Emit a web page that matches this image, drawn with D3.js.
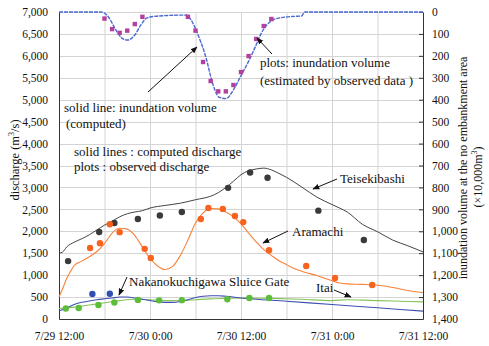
<!DOCTYPE html>
<html>
<head>
<meta charset="utf-8">
<script src="https://cdn.jsdelivr.net/npm/d3@7"></script>
<style>
  body { margin: 0; background: #fff; }
  text { font-family: "Liberation Serif", "Times New Roman", serif; fill: #111; }
</style>
</head>
<body>
<div id="chart"></div>
<script>
// hours from 7/29 12:00
var xTickHours = [0, 12, 24, 36, 48];
var xTickLabels = ["7/29 12:00", "7/30 0:00", "7/30 12:00", "7/31 0:00", "7/31 12:00"];
var leftTicks = d3.range(0, 7001, 500);
var rightTicks = d3.range(0, 1401, 100);

// computed discharge (m3/s)
var teisekibashi = [[0,1500],[0.5,1530],[1,1640],[2,1750],[3,1830],[4,1920],[5,2030],[6,2140],[7,2230],[8,2330],[9,2400],[10,2440],[11,2470],[12,2530],[14,2590],[16,2640],[18,2720],[20,2800],[21,2880],[22,3000],[23,3140],[24,3290],[25,3380],[26,3420],[27,3440],[28,3400],[29,3320],[30,3230],[32,3010],[34,2780],[36,2610],[37,2530],[38,2440],[40,2160],[42,1990],[44,1800],[46,1670],[48,1530]];
var aramachi = [[0,500],[0.5,700],[1,920],[1.5,1080],[2,1220],[3,1320],[4,1420],[5,1540],[6,1720],[7,1960],[8,2070],[9,2050],[10,1900],[11,1640],[12,1380],[13,1210],[14,1130],[15,1200],[16,1450],[17,1800],[18,2190],[19,2420],[20,2520],[21,2510],[22,2440],[23,2330],[24,2170],[25,1960],[26,1760],[27,1580],[28,1450],[29,1330],[30,1240],[31,1150],[32,1090],[33,1040],[34,990],[35,930],[36,870],[37,820],[38,800],[40,790],[42,770],[44,720],[46,650],[48,600]];
var nakanokuchigawa = [[0,180],[1,250],[2,330],[3,380],[4,410],[5,440],[6,460],[7,480],[8,500],[9,500],[10,480],[11,450],[12,420],[13,390],[14,380],[15,380],[16,400],[17,440],[18,490],[19,520],[20,530],[21,530],[22,520],[24,480],[30,405],[36,330],[42,255],[48,180]];
var itai = [[0,240],[2,270],[4,320],[6,370],[8,420],[10,450],[12,440],[14,420],[16,420],[18,440],[20,460],[22,470],[24,480],[28,470],[32,450],[36,420],[38,440],[40,430],[44,410],[48,390]];

// observed discharge
var teisekibashiObs = [[1.2,1320],[5.3,1984],[7.3,2190],[10.4,2280],[13.3,2360],[16.2,2440],[22.3,2990],[25.2,3340],[27.5,3220],[34.2,2470],[40.2,1800]];
var aramachiObs = [[4.1,1620],[5.4,1730],[6.7,2160],[8.0,1980],[11.3,1600],[12.1,1390],[18.7,2280],[19.7,2530],[21.6,2510],[23.2,2350],[24.3,2210],[27.7,1570],[32.6,1210],[36.4,935],[41.3,775]];
var nakanokuchigawaObs = [[4.4,570],[6.7,575]];
var itaiObs = [[0.9,240],[2.6,250],[5.2,320],[7.3,375],[10.4,435],[13.2,425],[16.2,430],[22.2,450],[25.1,480],[27.7,480]];

// inundation volume (x10,000 m3), right axis
var inundation = [[0,0],[5.5,0],[6,5],[6.6,27],[7.5,82],[8.3,119],[9,128],[10,105],[10.8,59],[11.6,27],[13.2,18],[16.8,14],[17.4,36],[18.5,119],[19.4,210],[20.2,319],[21.1,388],[22,395],[23,355],[24,290],[25,225],[26,150],[26.7,95],[27.4,59],[28.3,35],[29.1,27],[31,20],[32,18],[32.4,0],[48,0]];
var inundationObs = [[6,30],[7,78],[8,95],[9,85],[10,55],[11,22],[17,22],[18,85],[19,228],[20,315],[21,362],[22,362],[23,333],[24,274],[25,201],[26,123],[27,64],[28,32]];

var W = 489, H = 346;
var plot = {left: 59, right: 423, top: 12, bottom: 319};

var svg = d3.select("#chart").append("svg")
  .attr("width", W).attr("height", H);

var defs = svg.append("defs");
defs.append("marker")
  .attr("id", "arrow")
  .attr("viewBox", "0 0 10 10")
  .attr("refX", 9).attr("refY", 5)
  .attr("markerWidth", 7).attr("markerHeight", 7)
  .attr("orient", "auto")
  .append("path").attr("d", "M0,1 L10,5 L0,9 z").attr("fill", "#111");

var x = d3.scaleLinear().domain([0, 48]).range([plot.left, plot.right]);
var yL = d3.scaleLinear().domain([0, 7000]).range([plot.bottom, plot.top]);
var yR = d3.scaleLinear().domain([0, 1400]).range([plot.top, plot.bottom]);

// grid
var grid = svg.append("g").attr("stroke", "#d4d4d4").attr("stroke-width", 1);
grid.selectAll(".gx").data(d3.range(6, 48, 6)).enter().append("line")
  .attr("x1", d => x(d) + 0.5).attr("x2", d => x(d) + 0.5)
  .attr("y1", plot.top).attr("y2", plot.bottom);
grid.selectAll(".gy").data(leftTicks.slice(1)).enter().append("line")
  .attr("x1", plot.left).attr("x2", plot.right)
  .attr("y1", d => Math.round(yL(d)) + 0.5).attr("y2", d => Math.round(yL(d)) + 0.5);

// axes
var axisL = svg.append("g")
  .attr("transform", "translate(" + plot.left + ",0)")
  .call(d3.axisLeft(yL).tickValues(leftTicks).tickFormat(d3.format(",")).tickSize(0).tickPadding(11));
var axisR = svg.append("g")
  .attr("transform", "translate(" + plot.right + ",0)")
  .call(d3.axisRight(yR).tickValues(rightTicks).tickFormat(d3.format(",")).tickSizeInner(-4).tickSizeOuter(0).tickPadding(9));
var axisB = svg.append("g")
  .attr("transform", "translate(0," + plot.bottom + ")")
  .call(d3.axisBottom(x).tickValues(xTickHours).tickFormat((d, i) => xTickLabels[i]).tickSize(0).tickPadding(13));

[axisL, axisR, axisB].forEach(function(a){
  a.select(".domain").attr("stroke", "#333");
  a.selectAll(".tick line").attr("stroke", "#333");
  a.selectAll("text").style("font-family", "Liberation Serif, serif").style("font-size", "11.5px").attr("fill", "#111");
});

// lines
var line = d3.line().x(d => x(d[0])).y(d => yL(d[1])).curve(d3.curveMonotoneX);
var lineR = d3.line().x(d => x(d[0])).y(d => yR(d[1])).curve(d3.curveMonotoneX);

svg.append("path").datum(itai).attr("d", line)
  .attr("fill", "none").attr("stroke", "#86c45a").attr("stroke-width", 1.1);
svg.append("path").datum(nakanokuchigawa).attr("d", line)
  .attr("fill", "none").attr("stroke", "#3f4fb0").attr("stroke-width", 1.1);
svg.append("path").datum(aramachi).attr("d", line)
  .attr("fill", "none").attr("stroke", "#f7823a").attr("stroke-width", 1.1);
svg.append("path").datum(teisekibashi).attr("d", line)
  .attr("fill", "none").attr("stroke", "#444").attr("stroke-width", 1);
svg.append("path").datum(inundation).attr("d", lineR)
  .attr("fill", "none").attr("stroke", "#4a68d0").attr("stroke-width", 1.4)
  .attr("stroke-dasharray", "4,1");

// observed points
function dots(data, color) {
  svg.append("g").selectAll("circle").data(data).enter().append("circle")
    .attr("cx", d => x(d[0])).attr("cy", d => yL(d[1])).attr("r", 3.2)
    .attr("fill", color);
}
dots(teisekibashiObs, "#3a3a3a");
dots(aramachiObs, "#f8621f");
dots(nakanokuchigawaObs, "#2f4fb5");
dots(itaiObs, "#5cbd3a");

svg.append("g").selectAll("rect").data(inundationObs).enter().append("rect")
  .attr("x", d => x(d[0]) - 2.2).attr("y", d => yR(d[1]) - 2.2)
  .attr("width", 4.4).attr("height", 4.4).attr("fill", "#b3409f");

// annotations
var notes = svg.append("g").style("font-size", "13px");
function note(tx, ty, str) {
  notes.append("text").attr("x", tx).attr("y", ty).text(str);
}
note(64, 112, "solid line: inundation volume");
note(66, 128, "(computed)");
note(74, 156, "solid lines : computed discharge");
note(74, 171, "plots : observed discharge");
note(260, 67, "plots: inundation volume");
note(260, 85, "(estimated by observed data )");
note(340, 183, "Teisekibashi");
note(292, 236, "Aramachi");
note(129, 286, "Nakanokuchigawa Sluice Gate");
note(316, 292, "Itai");

var arrows = [
  [148, 92, 197, 47],
  [272, 54, 257, 38],
  [337, 179, 313, 189],
  [288, 231, 263, 243],
  [127, 277, 119, 295],
  [334, 290, 351, 297]
];
svg.append("g").selectAll("line").data(arrows).enter().append("line")
  .attr("x1", d => d[0]).attr("y1", d => d[1])
  .attr("x2", d => d[2]).attr("y2", d => d[3])
  .attr("stroke", "#111").attr("stroke-width", 1)
  .attr("marker-end", "url(#arrow)");

// axis titles
var tl = svg.append("text")
  .attr("transform", "translate(19,160) rotate(-90)")
  .attr("text-anchor", "middle").style("font-size", "12.5px");
tl.append("tspan").text("discharge (m");
tl.append("tspan").attr("dy", -5).style("font-size", "8px").text("3");
tl.append("tspan").attr("dy", 5).text("/s)");

svg.append("text")
  .attr("transform", "translate(467,168) rotate(-90)")
  .attr("text-anchor", "middle").style("font-size", "12px")
  .text("inundation volume at the no embankment area");
var tr = svg.append("text")
  .attr("transform", "translate(482,177) rotate(-90)")
  .attr("text-anchor", "middle").style("font-size", "12px");
tr.append("tspan").text("(\u00d710,000m");
tr.append("tspan").attr("dy", -5).style("font-size", "8px").text("3");
tr.append("tspan").attr("dy", 5).text(")");
</script>
</body>
</html>
